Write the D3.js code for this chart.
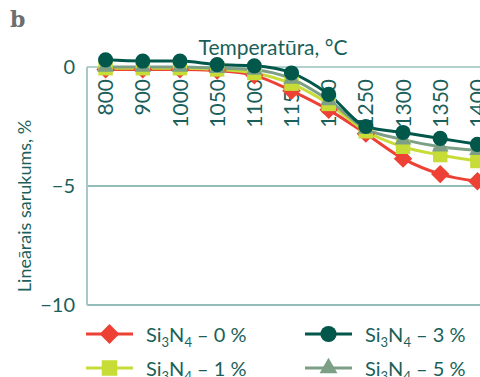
<!DOCTYPE html>
<html><head><meta charset="utf-8">
<script src="https://cdn.jsdelivr.net/npm/d3@7"></script>
<style>html,body{margin:0;padding:0;background:#fff;overflow:hidden}svg{display:block}</style>
</head><body>
<script>
const categories = ["800","900","1000","1050","1100","1150","1200","1250","1300","1350","1400"];
const s0 = [-0.1,-0.1,-0.1,-0.15,-0.35,-1.0,-1.8,-2.8,-3.85,-4.5,-4.8];
const s1 = [-0.05,-0.05,-0.05,-0.1,-0.25,-0.7,-1.55,-2.7,-3.35,-3.7,-3.95];
const s5 = [0.0,0.0,0.0,-0.05,-0.12,-0.5,-1.4,-2.6,-3.05,-3.35,-3.5];
const s3 = [0.3,0.25,0.25,0.1,0.05,-0.25,-1.15,-2.5,-2.75,-3.0,-3.25];
const yTicks = [0,-5,-10];
const series = [
  {name:"0", values:s0, color:"#ee4136", shape:"diamond"},
  {name:"1", values:s1, color:"#c8dc38", shape:"square"},
  {name:"5", values:s5, color:"#7c9f85", shape:"triangle"},
  {name:"3", values:s3, color:"#00574a", shape:"circle"}
];
const W=480,H=377, txt="#1b5f5a", font="Lato, 'Open Sans', sans-serif";
const svg=d3.select("body").append("svg").attr("width",W).attr("height",H);
const x=d3.scaleBand().domain(categories).range([87,496]);
const y=d3.scaleLinear().domain([-10,0]).range([305,67]);
const cx=d=>x(d)+x.bandwidth()/2;

svg.append("text").attr("x",10).attr("y",27).text("b")
  .attr("font-family","'DejaVu Serif', serif").attr("font-weight","bold").attr("font-size",22).attr("fill","#6d6e70");

// grid
svg.append("g").selectAll("line").data(yTicks).join("line")
  .attr("x1",87).attr("x2",W).attr("y1",d=>y(d)).attr("y2",d=>y(d))
  .attr("stroke",d=>d===0?"#b3d0cd":"#94bcb9").attr("stroke-width",2);
svg.append("line").attr("x1",87).attr("x2",87).attr("y1",y(0)).attr("y2",y(-10)).attr("stroke","#a9c8c5").attr("stroke-width",2);

// y tick labels
svg.append("g").selectAll("text").data(yTicks).join("text")
  .attr("x",75).attr("y",d=>y(d)).attr("dy","0.36em").attr("text-anchor","end")
  .attr("font-family",font).attr("font-size",20).attr("fill",txt)
  .text(d=>d===0?"0":"\u2212"+Math.abs(d));

// x tick labels rotated
svg.append("g").selectAll("text").data(categories).join("text")
  .attr("transform",d=>`translate(${cx(d)},79) rotate(-90)`)
  .attr("dy","0.36em").attr("text-anchor","end")
  .attr("font-family",font).attr("font-size",21).attr("fill",txt).text(d=>d);

// titles
svg.append("text").attr("x",273).attr("y",55).attr("text-anchor","middle")
  .attr("font-family",font).attr("font-size",21).attr("fill",txt).text("Temperatūra, °C");
svg.append("text").attr("transform","translate(31,206) rotate(-90)").attr("text-anchor","middle")
  .attr("font-family",font).attr("font-size",18).attr("fill",txt).text("Lineārais sarukums, %");

const sym={diamond:d3.symbolSquare, square:d3.symbolSquare, triangle:d3.symbolTriangle, circle:d3.symbolCircle};
const rot={diamond:45, square:0, triangle:0, circle:0};
const size={diamond:170, square:210, triangle:120, circle:180};
const line=d3.line().x((d,i)=>cx(categories[i])).y(d=>y(d)).curve(d3.curveMonotoneX);

series.forEach(s=>{
  svg.append("path").attr("d",line(s.values)).attr("fill","none").attr("stroke",s.color).attr("stroke-width",3);
});
series.forEach(s=>{
  svg.append("g").selectAll("path").data(s.values).join("path")
    .attr("transform",(d,i)=>`translate(${cx(categories[i])},${y(d)}) rotate(${rot[s.shape]})`)
    .attr("d",d3.symbol().type(sym[s.shape]).size(size[s.shape])).attr("fill",s.color);
});

// legend
const legend=[{s:series[0],x:86,y:334},{s:series[3],x:305,y:334},{s:series[1],x:86,y:368},{s:series[2],x:305,y:368}];
legend.forEach(l=>{
  const g=svg.append("g");
  g.append("line").attr("x1",l.x).attr("x2",l.x+47).attr("y1",l.y).attr("y2",l.y).attr("stroke",l.s.color).attr("stroke-width",3);
  g.append("path").attr("transform",`translate(${l.x+23.5},${l.y}) rotate(${rot[l.s.shape]})`).attr("d",d3.symbol().type(sym[l.s.shape]).size(size[l.s.shape]*1.15)).attr("fill",l.s.color);
  const t=g.append("text").attr("x",l.x+60).attr("y",l.y+8).attr("font-family",font).attr("font-size",20).attr("fill",txt);
  t.append("tspan").text("Si");
  t.append("tspan").attr("dy",5).attr("font-size",13).text("3");
  t.append("tspan").attr("dy",-5).text("N");
  t.append("tspan").attr("dy",5).attr("font-size",13).text("4");
  t.append("tspan").attr("dy",-5).text(" \u2013 "+l.s.name+" %");
});
</script>
</body></html>
